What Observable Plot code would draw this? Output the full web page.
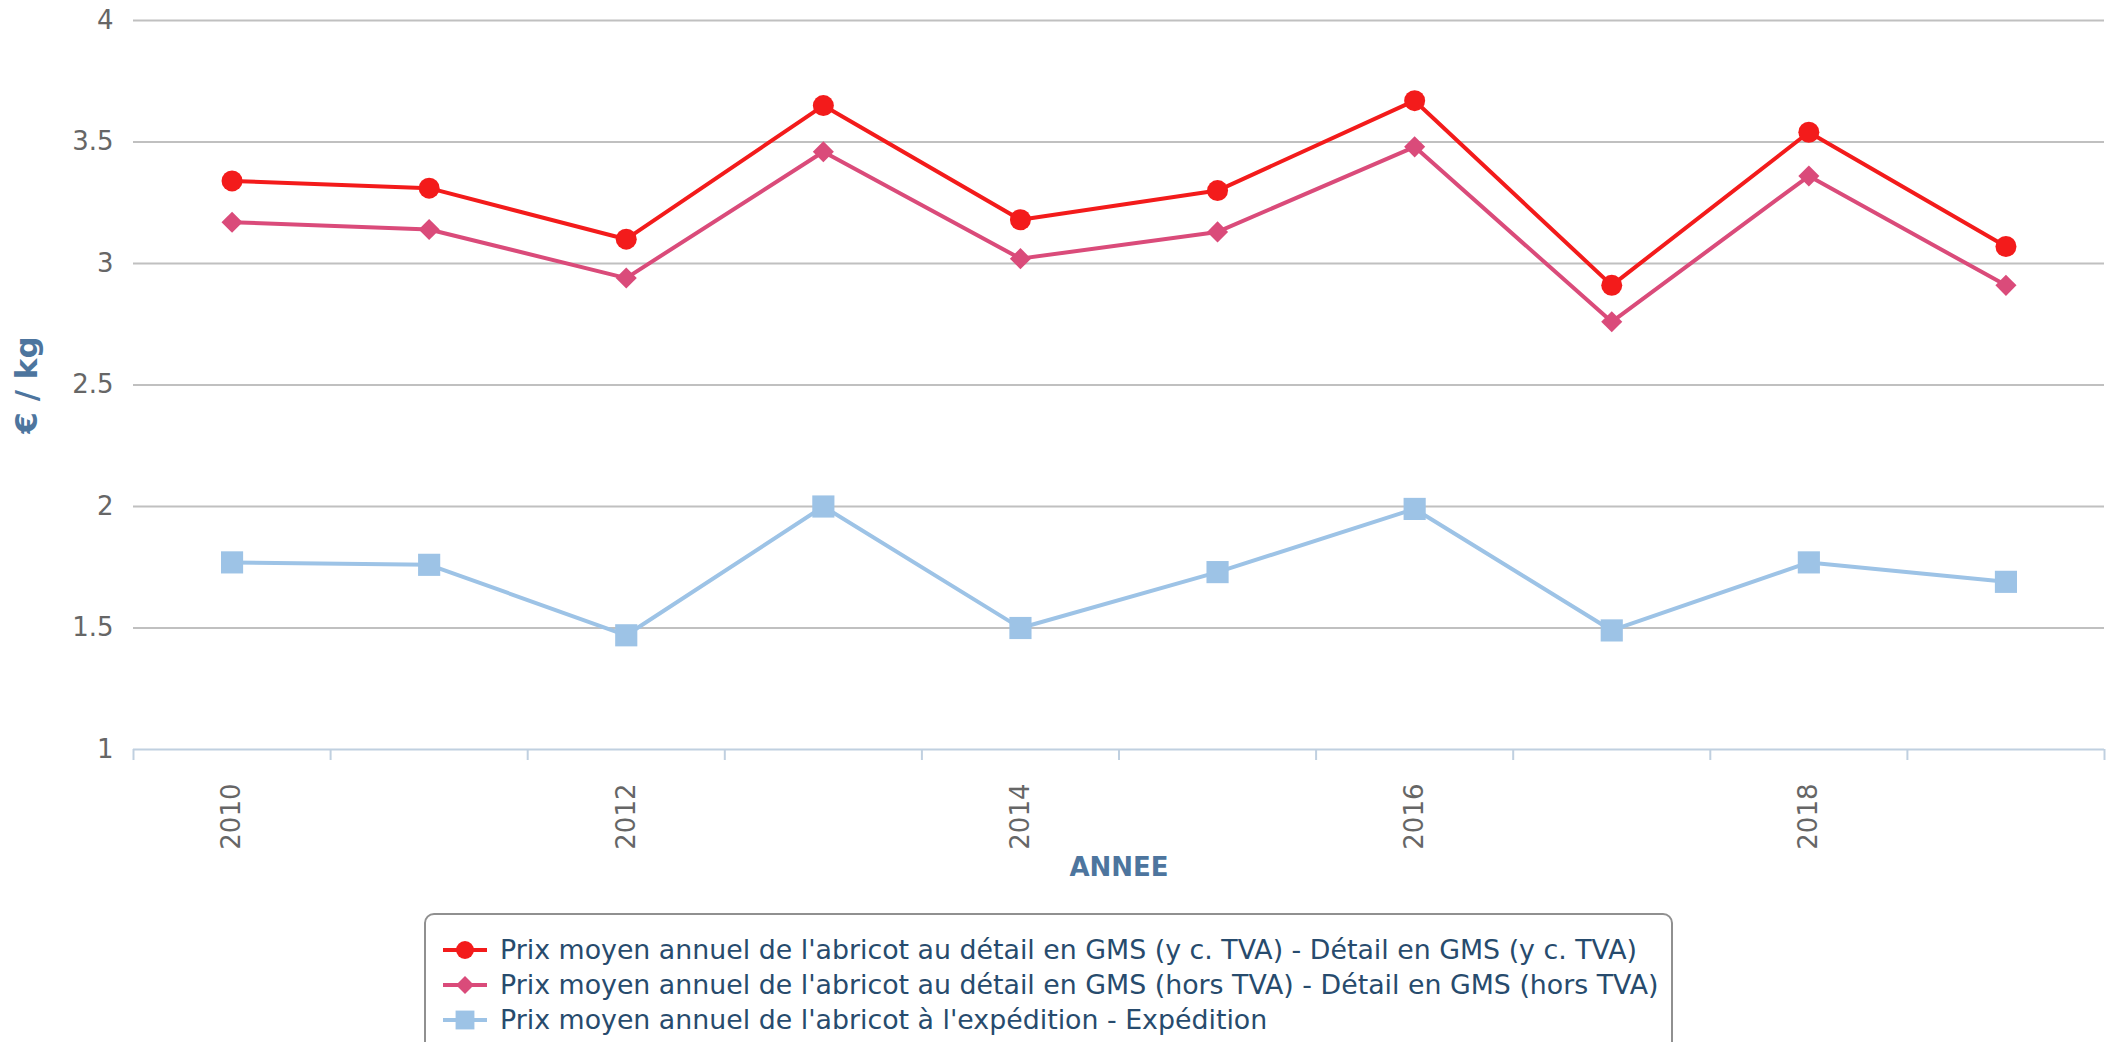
<!DOCTYPE html>
<html>
<head>
<meta charset="utf-8">
<script src="https://cdn.jsdelivr.net/npm/d3@7"></script>
<script src="https://cdn.jsdelivr.net/npm/@observablehq/plot@0.6"></script>
<style>
  html, body { margin: 0; padding: 0; background: #fff; overflow: hidden; }
  body { width: 2125px; height: 1042px; position: relative; font-family: "DejaVu Sans", sans-serif; }
  #chart svg { display: block; }
  #legend {
    position: absolute; left: 424px; top: 913px; width: 1249px; height: 160px;
    box-sizing: border-box; border: 2px solid #909090; border-radius: 10px;
    padding: 17px 0 0 17px; background: #fff;
  }
  .item { display: flex; align-items: center; height: 35px; }
  .item svg { display: block; margin-right: 13px; }
  .item span { font-size: 26.8px; color: #274b6d; white-space: nowrap; }
</style>
</head>
<body>
<div id="chart"></div>
<div id="legend"></div>
<script>
// ---- Data ----
const years = [2010, 2011, 2012, 2013, 2014, 2015, 2016, 2017, 2018, 2019];
const labelYears = [2010, 2012, 2014, 2016, 2018];
const yTicks = [1, 1.5, 2, 2.5, 3, 3.5, 4];
const prixDetailTTC = [3.34, 3.31, 3.10, 3.65, 3.18, 3.30, 3.67, 2.91, 3.54, 3.07];
const prixDetailHT  = [3.17, 3.14, 2.94, 3.46, 3.02, 3.13, 3.48, 2.76, 3.36, 2.91];
const prixExpedition = [1.77, 1.76, 1.47, 2.00, 1.50, 1.73, 1.99, 1.49, 1.77, 1.69];
const seriesNames = [
  "Prix moyen annuel de l'abricot au détail en GMS (y c. TVA) - Détail en GMS (y c. TVA)",
  "Prix moyen annuel de l'abricot au détail en GMS (hors TVA) - Détail en GMS (hors TVA)",
  "Prix moyen annuel de l'abricot à l'expédition - Expédition"
];
const yTitle = "€ / kg";
const xTitle = "ANNEE";

// ---- Styles ----
const seriesValues = [prixDetailTTC, prixDetailHT, prixExpedition];
const seriesColors = ["#f31b1b", "#da4b7a", "#9dc3e6"];
const seriesSymbols = ["circle", "diamond2", "square"];
const seriesR = [10.5, 9.5, 12.5];

const table = seriesNames.flatMap((name, s) =>
  years.map((year, i) => ({series: name, year, value: seriesValues[s][i]}))
);
const boundaries = [...years.map(y => y - 0.5), years[years.length - 1] + 0.5];

const marks = [
  Plot.ruleY(yTicks.filter(t => t !== yTicks[0]), {stroke: "#c0c0c0", strokeWidth: 2}),
  Plot.ruleY([yTicks[0]], {stroke: "#c0d0e0", strokeWidth: 2}),
  Plot.axisX(boundaries, {tickSize: 11, stroke: "#c0d0e0", strokeWidth: 2, tickFormat: () => "", label: null}),
  Plot.text(yTicks, {y: d => d, text: d => d3.format("~g")(d), frameAnchor: "left", textAnchor: "end", lineAnchor: "middle", dx: -20, fontSize: 26, fill: "#666666"}),
  Plot.text(labelYears, {x: d => d, text: d => String(d), frameAnchor: "bottom", rotate: -90, textAnchor: "end", lineAnchor: "middle", dy: 34, fontSize: 26, fill: "#666666"}),
  Plot.text([yTitle], {text: d => d, frameAnchor: "left", rotate: -90, textAnchor: "middle", lineAnchor: "middle", dx: -106, fontSize: 31, fontWeight: "bold", fill: "#4d759e"}),
  Plot.text([xTitle], {text: d => d, frameAnchor: "bottom", textAnchor: "middle", lineAnchor: "middle", dy: 118, fontSize: 26, fontWeight: "bold", fill: "#4d759e"})
];
seriesNames.forEach((name, s) => {
  const rows = table.filter(d => d.series === name);
  marks.push(Plot.line(rows, {x: "year", y: "value", stroke: seriesColors[s], strokeWidth: 4}));
  marks.push(Plot.dot(rows, {x: "year", y: "value", symbol: seriesSymbols[s], r: seriesR[s], fill: seriesColors[s], stroke: "none"}));
});

const chart = Plot.plot({
  width: 2125,
  height: 900,
  marginLeft: 133,
  marginRight: 21,
  marginTop: 20,
  marginBottom: 151,
  style: {fontFamily: "DejaVu Sans", background: "white"},
  x: {type: "linear", domain: [boundaries[0], boundaries[boundaries.length - 1]], axis: null},
  y: {domain: [yTicks[0], yTicks[yTicks.length - 1]], axis: null},
  marks
});
document.getElementById("chart").appendChild(chart);

// ---- Legend ----
const legend = d3.select("#legend");
seriesNames.forEach((name, s) => {
  const row = legend.append("div").attr("class", "item");
  const svg = row.append("svg").attr("width", 44).attr("height", 26);
  svg.append("line").attr("x1", 0).attr("x2", 44).attr("y1", 13).attr("y2", 13)
    .attr("stroke", seriesColors[s]).attr("stroke-width", 4);
  const type = {circle: d3.symbolCircle, diamond2: d3.symbolDiamond2, square: d3.symbolSquare}[seriesSymbols[s]];
  const r = seriesR[s] * 0.85;
  svg.append("path").attr("transform", "translate(22,13)")
    .attr("d", d3.symbol(type, Math.PI * r * r)()).attr("fill", seriesColors[s]);
  row.append("span").text(name);
});
</script>
</body>
</html>
